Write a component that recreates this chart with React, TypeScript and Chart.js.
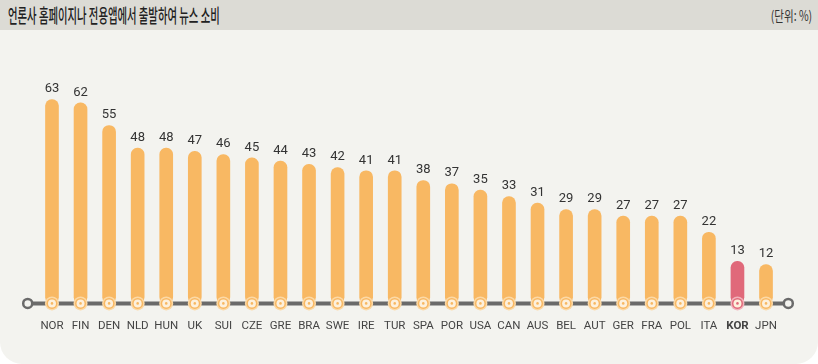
import React, { useEffect, useRef } from "react";
import { Chart, registerables } from "chart.js";

Chart.register(...registerables);

const categories = ["NOR","FIN","DEN","NLD","HUN","UK","SUI","CZE","GRE","BRA","SWE","IRE","TUR","SPA","POR","USA","CAN","AUS","BEL","AUT","GER","FRA","POL","ITA","KOR","JPN"];
const values = [63,62,55,48,48,47,46,45,44,43,42,41,41,38,37,35,33,31,29,29,27,27,27,22,13,12];
const highlight = "KOR";
const titleText = "언론사 홈페이지나 전용앱에서 출발하여 뉴스 소비";
const unitText = "(단위: %)";

const ORANGE = "#f8b863";
const ORANGE_LIGHT = "#fcd9a6";
const PINK = "#e0697a";
const PINK_LIGHT = "#f2b3bb";

const decorPlugin = {
  id: "decor",
  afterDatasetsDraw(chart: any) {
    const { ctx, chartArea, scales } = chart;
    const y = scales.y.getPixelForValue(0);
    const x0 = chartArea.left - 10;
    const x1 = chartArea.right + 8;
    ctx.save();
    ctx.strokeStyle = "#6a6a6a";
    ctx.lineWidth = 4;
    ctx.beginPath();
    ctx.moveTo(x0, y);
    ctx.lineTo(x1, y);
    ctx.stroke();
    for (const cx of [x0, x1]) {
      ctx.beginPath();
      ctx.arc(cx, y, 4.5, 0, Math.PI * 2);
      ctx.fillStyle = "#f3f3ef";
      ctx.fill();
      ctx.lineWidth = 2.5;
      ctx.strokeStyle = "#6a6a6a";
      ctx.stroke();
    }
    const meta = chart.getDatasetMeta(0);
    meta.data.forEach((bar: any, i: number) => {
      const hi = categories[i] === highlight;
      const main = hi ? PINK : ORANGE;
      const light = hi ? PINK_LIGHT : ORANGE_LIGHT;
      ctx.beginPath();
      ctx.arc(bar.x, y, 7, 0, Math.PI * 2);
      ctx.fillStyle = light;
      ctx.fill();
      ctx.beginPath();
      ctx.arc(bar.x, y, 5.5, 0, Math.PI * 2);
      ctx.fillStyle = main;
      ctx.fill();
      ctx.beginPath();
      ctx.arc(bar.x, y, 4, 0, Math.PI * 2);
      ctx.fillStyle = "#fdf0dc";
      ctx.fill();
      ctx.beginPath();
      ctx.arc(bar.x, y, 1.3, 0, Math.PI * 2);
      ctx.fillStyle = main;
      ctx.fill();
      ctx.fillStyle = "#333";
      ctx.font = "13px Roboto";
      ctx.textAlign = "center";
      ctx.textBaseline = "bottom";
      ctx.fillText(String(values[i]), bar.x, bar.y - 4);
    });
    ctx.restore();
  },
};

export default function App() {
  const ref = useRef<HTMLCanvasElement | null>(null);
  useEffect(() => {
    document.body.style.margin = "0";
    const chart = new Chart(ref.current as HTMLCanvasElement, {
      type: "bar",
      data: {
        labels: categories,
        datasets: [
          {
            data: values,
            backgroundColor: categories.map((c) => (c === highlight ? PINK : ORANGE)),
            barThickness: 13,
            borderRadius: 6.5,
            borderSkipped: false,
          },
        ],
      },
      options: {
        animation: false,
        responsive: false,
        maintainAspectRatio: false,
        layout: { padding: { left: 37.7, right: 37.7, top: 47, bottom: 14.8 } },
        plugins: { legend: { display: false }, tooltip: { enabled: false } },
        scales: {
          y: { display: false, min: 0, max: 70 },
          x: {
            grid: { display: false, drawTicks: false },
            border: { display: false },
            ticks: {
              padding: 16,
              color: "#444",
              autoSkip: false,
              maxRotation: 0,
              font: (ctx: any) => ({
                family: "Roboto",
                size: 11.5,
                weight: categories[ctx.index] === highlight ? "bold" : "normal",
              }),
            },
          },
        },
      },
      plugins: [decorPlugin],
    });
    return () => chart.destroy();
  }, []);

  return (
    <div style={{ width: 818, height: 364, background: "#ffffff", position: "relative", overflow: "hidden" }}>
      <div
        style={{
          position: "absolute",
          left: 0,
          top: 0,
          width: 818,
          height: 364,
          background: "#f3f3ef",
          borderBottomLeftRadius: 22,
          borderBottomRightRadius: 22,
        }}
      />
      <div style={{ position: "absolute", left: 0, top: 0, width: 818, height: 30, background: "#dcdbd5" }} />
      <div
        style={{
          position: "absolute",
          left: 8,
          top: 3,
          fontFamily: "'Noto Sans CJK KR'",
          fontSize: 19,
          fontWeight: 500,
          color: "#222",
          whiteSpace: "nowrap",
          transform: "scaleX(0.545)",
          transformOrigin: "left center",
          lineHeight: "24px",
        }}
      >
        {titleText}
      </div>
      <div
        style={{
          position: "absolute",
          right: 6,
          top: 6,
          fontFamily: "'Noto Sans CJK KR'",
          fontSize: 14,
          color: "#333",
          whiteSpace: "nowrap",
          transform: "scaleX(0.75)",
          transformOrigin: "right center",
          lineHeight: "18px",
        }}
      >
        {unitText}
      </div>
      <canvas ref={ref} width={818} height={334} style={{ position: "absolute", left: 0, top: 30, width: 818, height: 334 }} />
    </div>
  );
}
